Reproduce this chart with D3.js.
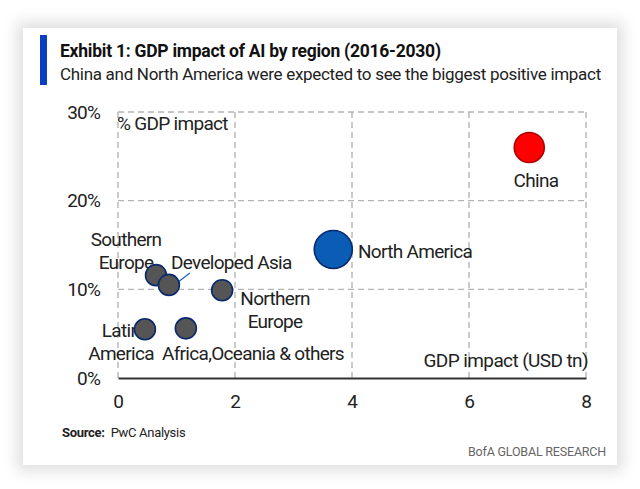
<!DOCTYPE html>
<html><head><meta charset="utf-8">
<script src="https://cdn.jsdelivr.net/npm/d3@7"></script>
<style>
html,body{margin:0;padding:0;background:#fff;}
#card{position:absolute;left:23px;top:28px;width:594px;height:437px;background:#fff;box-shadow:0 0 14px 6px rgba(0,0,0,0.13);}
svg{position:absolute;left:0;top:0;}
text{font-family:Roboto,"Noto Sans",sans-serif;}
</style></head>
<body><div id="card"></div><svg id="chart" width="640" height="489"></svg>
<script>
const regions = ["China","North America","Southern Europe","Developed Asia","Northern Europe","Latin America","Africa,Oceania & others"];
const gdpUsdTn = [7.03, 3.68, 0.65, 0.87, 1.78, 0.46, 1.16];
const gdpPct = [26.0, 14.5, 11.6, 10.5, 9.9, 5.5, 5.6];
const bubbleSize = [2.5, 4.0, 1.22, 1.22, 1.22, 1.22, 1.22];
const xTicks = [0, 2, 4, 6, 8];
const yTicks = [0, 10, 20, 30];
const yTickLabels = ["0%", "10%", "20%", "30%"];

const svg = d3.select("#chart");
const x = d3.scaleLinear().domain([0, 8]).range([118, 586]);
const y = d3.scaleLinear().domain([0, 30]).range([378, 112]);
const r = d3.scaleSqrt().domain([0, 4]).range([0, 19]);

// header
svg.append("rect").attr("x", 40).attr("y", 35).attr("width", 7).attr("height", 50).attr("fill", "#0a3fbf");
svg.append("text").attr("x", 60).attr("y", 57).attr("font-size", 17.5).attr("font-weight", "bold").attr("fill", "#111")
  .attr("letter-spacing", "-0.25").text("Exhibit 1: GDP impact of AI by region (2016-2030)");
svg.append("text").attr("x", 60).attr("y", 80).attr("font-size", 17).attr("fill", "#222")
  .attr("letter-spacing", "-0.3").text("China and North America were expected to see the biggest positive impact");

// grid
const grid = svg.append("g").attr("stroke", "#b4b4b4").attr("stroke-width", 1.4).attr("stroke-dasharray", "6,4").attr("fill", "none");
xTicks.forEach(t => grid.append("line").attr("x1", x(t)).attr("x2", x(t)).attr("y1", y(30)).attr("y2", y(0)));
yTicks.filter(t => t > 0).forEach(t => grid.append("line").attr("x1", x(0)).attr("x2", x(8)).attr("y1", y(t)).attr("y2", y(t)));

// x axis
const xAxis = svg.append("g").attr("transform", `translate(0,${y(0)})`)
  .call(d3.axisBottom(x).tickValues(xTicks).tickSize(0).tickPadding(17));
xAxis.select(".domain").attr("stroke", "#333").attr("stroke-width", 2);
xAxis.selectAll("text").attr("font-size", 19).attr("fill", "#222").attr("font-family", "Roboto,sans-serif");

// y axis labels
const yAxis = svg.append("g").attr("transform", `translate(${x(0)},0)`)
  .call(d3.axisLeft(y).tickValues(yTicks).tickFormat((d, i) => yTickLabels[i]).tickSize(0).tickPadding(18));
yAxis.select(".domain").remove();
yAxis.selectAll("text").attr("font-size", 19).attr("fill", "#222").attr("letter-spacing", "-0.8").attr("font-family", "Roboto,sans-serif");

svg.append("text").attr("x", 117).attr("y", 130).attr("font-size", 19).attr("fill", "#222").attr("letter-spacing", "-0.7").text("% GDP impact");
svg.append("text").attr("x", 588).attr("y", 367).attr("text-anchor", "end").attr("font-size", 19).attr("fill", "#222").attr("letter-spacing", "-0.6").text("GDP impact (USD tn)");

// labels (drawn under bubbles)
const labelLines = [["China"], ["North America"], ["Southern", "Europe"], ["Developed Asia"], ["Northern", "Europe"], ["Latin", "America"], ["Africa,Oceania & others"]];
const lab = [
  {x: 536, y: 187, a: "middle"},
  {x: 358, y: 258, a: "start"},
  {x: 126, y: 246, a: "middle"},
  {x: 171, y: 269, a: "start"},
  {x: 275, y: 305, a: "middle"},
  {x: 121, y: 337, a: "middle"},
  {x: 162, y: 360, a: "start"}
];
const lg = svg.append("g");
labelLines.forEach((lines, i) => {
  lines.forEach((l, j) => {
    lg.append("text").attr("x", lab[i].x).attr("y", lab[i].y + j * 22.5).attr("text-anchor", lab[i].a)
      .attr("font-size", 19).attr("fill", "#222").attr("letter-spacing", "-0.7").text(l);
  });
});

// leader line for Developed Asia
svg.append("line").attr("x1", x(gdpUsdTn[3]) + 8).attr("y1", y(gdpPct[3]) - 2)
  .attr("x2", x(gdpUsdTn[3]) + 21).attr("y2", y(gdpPct[3]) - 12).attr("stroke", "#1f5fbf").attr("stroke-width", 1.2);

// bubbles
const fills = ["#ff0000", "#0b5cb5", "#555555", "#555555", "#555555", "#555555", "#555555"];
const strokes = ["#b00000", "#0a2a6e", "#0a2a6e", "#0a2a6e", "#0a2a6e", "#0a2a6e", "#0a2a6e"];
svg.append("g").selectAll("circle").data(regions).join("circle")
  .attr("cx", (d, i) => x(gdpUsdTn[i])).attr("cy", (d, i) => y(gdpPct[i])).attr("r", (d, i) => r(bubbleSize[i]))
  .attr("fill", (d, i) => fills[i]).attr("stroke", (d, i) => strokes[i]).attr("stroke-width", 1.6);

// footer
const src = svg.append("text").attr("x", 62).attr("y", 437).attr("font-size", 13).attr("fill", "#222").attr("letter-spacing", "-0.3");
src.append("tspan").attr("font-weight", "bold").text("Source:");
src.append("tspan").attr("dx", 6).text("PwC Analysis");
svg.append("text").attr("x", 606).attr("y", 456).attr("text-anchor", "end").attr("font-size", 12.5).attr("fill", "#666").attr("letter-spacing", "-0.2").text("BofA GLOBAL RESEARCH");
</script></body></html>
